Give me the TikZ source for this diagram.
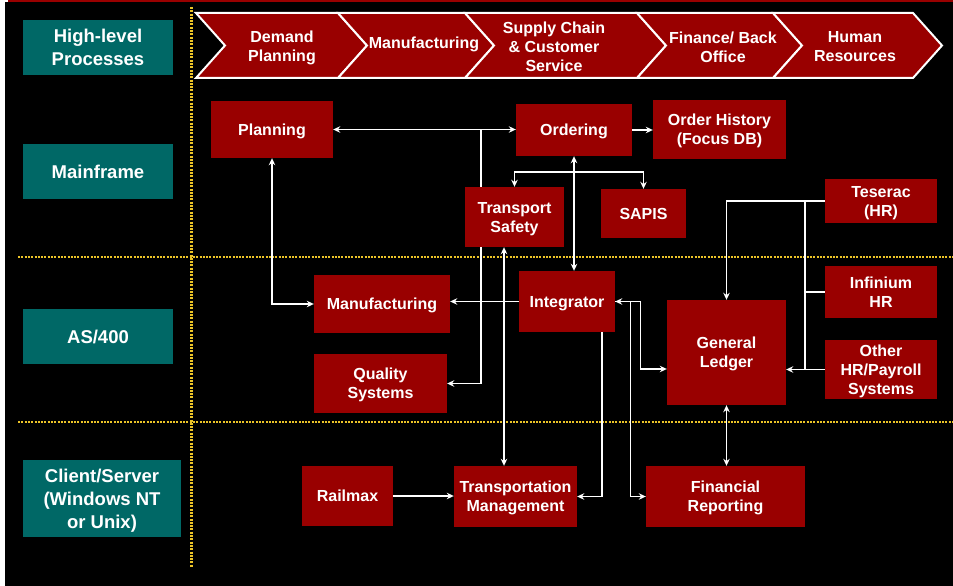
\documentclass[tikz,border=0pt]{standalone}
\usepackage{fontspec}
\setmainfont{Liberation Sans}
\usetikzlibrary{arrows.meta,backgrounds}
\definecolor{boxred}{RGB}{153,0,0}
\definecolor{rowteal}{RGB}{0,104,102}
\definecolor{dotyellow}{RGB}{236,196,40}
\begin{document}
\begin{tikzpicture}[x=1pt,y=-1pt,>={Stealth[length=7pt,width=6.5pt]},
	sys/.style={fill=boxred,text=white,font=\fontsize{16}{19}\selectfont\bfseries,align=center,inner sep=0pt,text depth=-2pt},
	chev/.style={text=white,font=\fontsize{16}{19}\selectfont\bfseries,align=center,inner sep=0pt,text depth=-2pt},
	tier/.style={fill=rowteal,text=white,font=\fontsize{18.5}{23}\selectfont\bfseries,align=center,inner sep=0pt,text depth=0pt,minimum width=150,minimum height=55},
	link/.style={white,line width=1.3pt},
	sep/.style={dotyellow,line width=2.5pt,dash pattern=on 2pt off 1.3pt}]
	\useasboundingbox (0,0) rectangle (953,586);
	\begin{scope}[on background layer]
	\fill[white] (0,0) rectangle (953,586);
	\fill[black] (5,2) rectangle (953,586);
	\fill[boxred] (8,0) rectangle (953,2);
	\draw[sep] (191.5,7) -- (191.5,567);
	\foreach \y in {257,422}\draw[sep] (18,\y) -- (953,\y);
	\end{scope}
	% tiers
	\node[tier] (hlp) at (98,47.5) {High-level\\Processes};
	\node[tier] (mainframe) at (98,171.5) {Mainframe};
	\node[tier] (as400) at (98,336.5) {AS/400};
	\node[tier,minimum width=158,minimum height=77] (client) at (102,498.5) {Client/Server\\(Windows NT\\or Unix)};
	% process chevrons
	\foreach \l/\r in {196/338,338/465,465/637,637/773,773/913}
		\filldraw[fill=boxred,draw=white,line width=2pt] (\l,13) -- (\r,13) -- (\r+29,45.5) -- (\r,78) -- (\l,78) -- (\l+29,45.5) -- cycle;
	\foreach \n/\x/\y/\txt in {demand/282/46/{Demand\\Planning},manufproc/424/42.5/{Manufacturing},supply/554/46.5/{Supply Chain\\\& Customer\\Service},finance/723/47.5/{Finance/ Back\\Office},human/855/46/{Human\\Resources}}
		\node[chev] (\n) at (\x,\y) {\txt};
	% systems
	\node[sys,minimum width=122,minimum height=57] (planning) at (272,129.5) {Planning};
	\node[sys,minimum width=116,minimum height=52] (ordering) at (574,130) {Ordering};
	\node[sys,minimum width=133,minimum height=59] (history) at (719.5,129.5) {Order History\\(Focus DB)};
	\node[sys,minimum width=99,minimum height=60] (tsafety) at (514.5,217) {Transport\\Safety};
	\node[sys,minimum width=85,minimum height=49] (sapis) at (643.5,213.5) {SAPIS};
	\node[sys,minimum width=112,minimum height=44] (teserac) at (881,201) {Teserac\\(HR)};
	\node[sys,minimum width=112,minimum height=52] (infinium) at (881,292) {Infinium\\HR};
	\node[sys,minimum width=112,minimum height=59] (otherhr) at (881,369.5) {Other\\HR/Payroll\\Systems};
	\node[sys,minimum width=119,minimum height=105] (ledger) at (726.5,352.5) {General\\Ledger};
	\node[sys,minimum width=96,minimum height=61] (integrator) at (567,301.5) {Integrator};
	\node[sys,minimum width=136,minimum height=58] (manuf) at (382,304) {Manufacturing};
	\node[sys,minimum width=133,minimum height=59] (quality) at (380.5,383.5) {Quality\\Systems};
	\node[sys,minimum width=91,minimum height=60] (railmax) at (347.5,496) {Railmax};
	\node[sys,minimum width=123,minimum height=61] (transmgmt) at (515.5,496.5) {Transportation\\Management};
	\node[sys,minimum width=159,minimum height=61] (finrep) at (725.5,496.5) {Financial\\Reporting};
	\coordinate (qsplit) at (481,130);
	\coordinate (osplit) at (574,172);
	\coordinate (hrbus) at (805,201);
	\begin{scope}[on background layer]
	\begin{scope}[link]
	\draw[<->] (planning.east) -- (planning.east -| ordering.west);
	\draw[->] (qsplit) |- (quality.east);
	\draw[<->] (planning.south) |- (manuf.west);
	\draw[->] (ordering.east) -- (ordering.east -| history.west);
	\draw[<->] (ordering.south) -- (ordering.south |- integrator.north);
	\draw[->] (osplit) -| (tsafety.north);
	\draw[->] (osplit) -| (sapis.north);
	\draw[<->] ([xshift=-10.5pt]tsafety.south) -- ([xshift=-10.5pt]tsafety.south |- transmgmt.north);
	\draw[->] (integrator.west) -- (integrator.west -| manuf.east);
	\draw[->] ([xshift=35pt]integrator.south) |- (transmgmt.east);
	\draw[<->] (integrator.east) -- ++(25,0) |- ([yshift=-16.5pt]ledger.west);
	\draw[->] (integrator.east) -- ++(15,0) |- (finrep.west);
	\draw[<->] (ledger.south) -- (ledger.south |- finrep.north);
	\draw[->] (teserac.west) -| (ledger.north);
	\draw (hrbus) -- (hrbus |- otherhr.west);
	\draw (infinium.west) -- (infinium.west -| hrbus);
	\draw[->] (otherhr.west) -- (otherhr.west -| ledger.east);
	\draw[->] (railmax.east) -- (railmax.east -| transmgmt.west);
	\end{scope}
	\end{scope}
\end{tikzpicture}
\end{document}
